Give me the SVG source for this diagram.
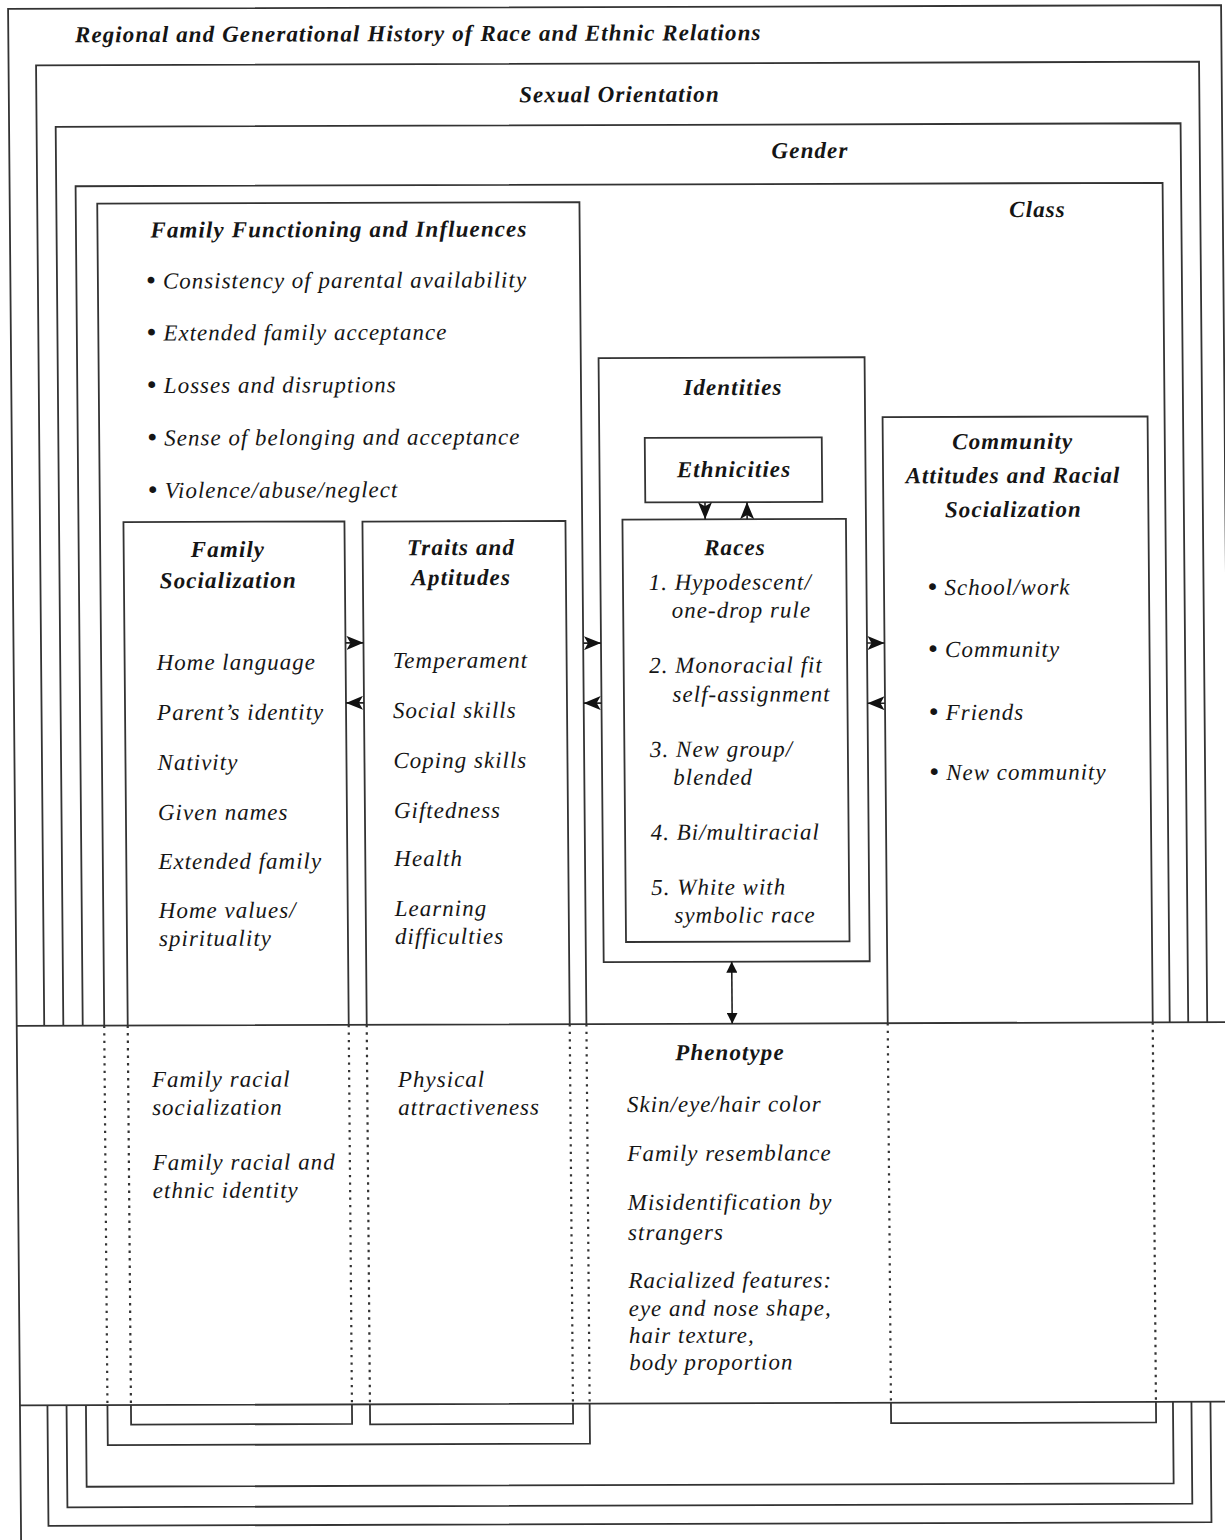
<svg xmlns="http://www.w3.org/2000/svg" width="1225" height="1540" viewBox="0 0 1225 1540">
<style>
.t{font-family:"Liberation Serif","Times New Roman",serif;font-style:italic;font-size:23px;letter-spacing:1px;fill:#151515}
.b{font-weight:bold;letter-spacing:1.1px}
.c{text-anchor:middle}
.bu{font-weight:bold;font-size:25px}
.box{fill:none;stroke:#333;stroke-width:1.8}
.dot{fill:none;stroke:#333;stroke-width:2.2;stroke-dasharray:2.4 5.1}
.con{fill:none;stroke:#222;stroke-width:1.6}
</style>
<defs>
<marker id="barb" viewBox="0 0 17 14" refX="17" refY="7" markerWidth="17" markerHeight="14" markerUnits="userSpaceOnUse" orient="auto">
<path d="M0,0 L17,7 L0,14 L4,7 Z" fill="#111"/>
</marker>
<marker id="tri" viewBox="0 0 11 11" refX="11" refY="5.5" markerWidth="11" markerHeight="11" markerUnits="userSpaceOnUse" orient="auto-start-reverse">
<path d="M0,0 L11,5.5 L0,11 Z" fill="#111"/>
</marker>
</defs>
<rect x="0" y="0" width="1225" height="1540" fill="#fff"/>
<g transform="matrix(1,-0.0032,0.0085,1,0,0)">
<g id="regional-history">
<path class="box" d="M8,1560 V9 H1221 V1560"/>
<text class="t b" x="74.6" y="42.5">Regional and Generational History of Race and Ethnic Relations</text>
</g>
<g id="sexual-orientation">
<path class="box" d="M35.5,1026 V65.5 H1198.5 V1026 M35.5,1405.5 V1526 H1198.5 V1405.5"/>
<text class="t b c" x="618.6" y="104">Sexual Orientation</text>
</g>
<g id="gender">
<path class="box" d="M54.6,1026 V127 H1179.5 V1026 M54.6,1405.5 V1507.5 H1179.5 V1405.5"/>
<text class="t b c" x="808.7" y="160.6">Gender</text>
</g>
<g id="class">
<path class="box" d="M74,1026 V186.5 H1161 V1026 M74,1405.5 V1487 H1161 V1405.5"/>
<text class="t b c" x="1035.7" y="220.3">Class</text>
</g>
<g id="phenotype">
<path class="box" d="M8,1026 H1221 M8,1405.5 H1221"/>
<text class="t b c" x="721" y="1062.3">Phenotype</text>
<text class="t" x="617.5" y="1114">Skin/eye/hair color</text>
<text class="t" x="617.5" y="1163">Family resemblance</text>
<text class="t" x="617.5" y="1212">Misidentification by</text>
<text class="t" x="617.5" y="1242">strangers</text>
<text class="t" x="617.5" y="1290">Racialized features:</text>
<text class="t" x="617.5" y="1318">eye and nose shape,</text>
<text class="t" x="617.5" y="1345">hair texture,</text>
<text class="t" x="617.5" y="1372">body proportion</text>
</g>
<g id="family-functioning">
<path class="box" d="M95.5,1026 V204 H577.7 V1026 M95.5,1405.5 V1445.5 H577.7 V1405.5"/>
<path class="dot" d="M95.5,1026 V1405.5 M577.7,1026 V1405.5"/>
<text class="t b c" x="337" y="238.1">Family Functioning and Influences</text>
<text class="t" x="144" y="289"><tspan class="bu">•</tspan> Consistency of parental availability</text>
<text class="t" x="144" y="341"><tspan class="bu">•</tspan> Extended family acceptance</text>
<text class="t" x="144" y="393.5"><tspan class="bu">•</tspan> Losses and disruptions</text>
<text class="t" x="144" y="446"><tspan class="bu">•</tspan> Sense of belonging and acceptance</text>
<text class="t" x="144" y="498.5"><tspan class="bu">•</tspan> Violence/abuse/neglect</text>
</g>
<g id="family-socialization">
<path class="box" d="M119,1026 V522.5 H340 V1026 M119,1405.5 V1425 H340 V1405.5"/>
<path class="dot" d="M119,1026 V1405.5 M340,1026 V1405.5"/>
<text class="t b c" x="223.3" y="557.7">Family</text>
<text class="t b c" x="223.3" y="588.7">Socialization</text>
<text class="t" x="151" y="670.5">Home language</text>
<text class="t" x="151" y="720.5">Parent’s identity</text>
<text class="t" x="151" y="770.5">Nativity</text>
<text class="t" x="151" y="820.5">Given names</text>
<text class="t" x="151" y="869.5">Extended family</text>
<text class="t" x="151" y="918.5">Home values/</text>
<text class="t" x="151" y="946.5">spirituality</text>
<text class="t" x="142.7" y="1087.5">Family racial</text>
<text class="t" x="142.7" y="1115.5">socialization</text>
<text class="t" x="142.7" y="1170.5">Family racial and</text>
<text class="t" x="142.7" y="1198.5">ethnic identity</text>
</g>
<g id="traits-aptitudes">
<path class="box" d="M358,1026 V522.8 H561 V1026 M358,1405.5 V1425.5 H561 V1405.5"/>
<path class="dot" d="M358,1026 V1405.5 M561,1026 V1405.5"/>
<text class="t b c" x="456.3" y="556.5">Traits and</text>
<text class="t b c" x="456.3" y="586.5">Aptitudes</text>
<text class="t" x="387" y="669.3">Temperament</text>
<text class="t" x="387" y="719.3">Social skills</text>
<text class="t" x="387" y="769.3">Coping skills</text>
<text class="t" x="387" y="819.3">Giftedness</text>
<text class="t" x="387" y="867.3">Health</text>
<text class="t" x="387" y="917.3">Learning</text>
<text class="t" x="387" y="945.3">difficulties</text>
<text class="t" x="388.8" y="1088.3">Physical</text>
<text class="t" x="388.8" y="1116.3">attractiveness</text>
</g>
<g id="identities">
<rect class="box" x="595.5" y="360" width="266" height="604"/>
<text class="t b c" x="729.6" y="397.3">Identities</text>
</g>
<g id="ethnicities">
<rect class="box" x="641" y="440" width="177" height="64.5"/>
<text class="t b c" x="730" y="479.3">Ethnicities</text>
</g>
<g id="races">
<rect class="box" x="618" y="521.5" width="223.5" height="422.5"/>
<text class="t b c" x="730.3" y="557.4">Races</text>
<text class="t" x="643.6" y="592">1. Hypodescent/</text>
<text class="t" x="666.6" y="620">one-drop rule</text>
<text class="t" x="643.6" y="675">2. Monoracial fit</text>
<text class="t" x="666.6" y="704">self-assignment</text>
<text class="t" x="643.6" y="759">3. New group/</text>
<text class="t" x="666.6" y="787">blended</text>
<text class="t" x="643.6" y="842">4. Bi/multiracial</text>
<text class="t" x="643.6" y="897">5. White with</text>
<text class="t" x="666.6" y="925">symbolic race</text>
</g>
<g id="community">
<path class="box" d="M879,1026 V420 H1144 V1026 M879,1405.5 V1426 H1144 V1405.5"/>
<path class="dot" d="M879,1026 V1405.5 M1144,1026 V1405.5"/>
<text class="t b c" x="1009" y="452.2">Community</text>
<text class="t b c" x="1009" y="486.2">Attitudes and Racial</text>
<text class="t b c" x="1009" y="520.2">Socialization</text>
<text class="t" x="923" y="598"><tspan class="bu">•</tspan> School/work</text>
<text class="t" x="923" y="660"><tspan class="bu">•</tspan> Community</text>
<text class="t" x="923" y="723"><tspan class="bu">•</tspan> Friends</text>
<text class="t" x="923" y="783"><tspan class="bu">•</tspan> New community</text>
</g>
<g id="connectors">
<line class="con" x1="340" y1="644" x2="358" y2="644" marker-end="url(#barb)"/>
<line class="con" x1="358" y1="704" x2="340" y2="704" marker-end="url(#barb)"/>
<line class="con" x1="577.7" y1="645" x2="595.5" y2="645" marker-end="url(#barb)"/>
<line class="con" x1="595.5" y1="705" x2="577.7" y2="705" marker-end="url(#barb)"/>
<line class="con" x1="861.5" y1="645.8" x2="879" y2="645.8" marker-end="url(#barb)"/>
<line class="con" x1="879" y1="706" x2="861.5" y2="706" marker-end="url(#barb)"/>
<line class="con" x1="700.7" y1="504.5" x2="700.7" y2="521.5" marker-end="url(#barb)"/>
<line class="con" x1="742.7" y1="521.5" x2="742.7" y2="504.5" marker-end="url(#barb)"/>
<line class="con" x1="723.5" y1="964" x2="723.5" y2="1026" marker-start="url(#tri)" marker-end="url(#tri)"/>
</g>
</g>
</svg>
